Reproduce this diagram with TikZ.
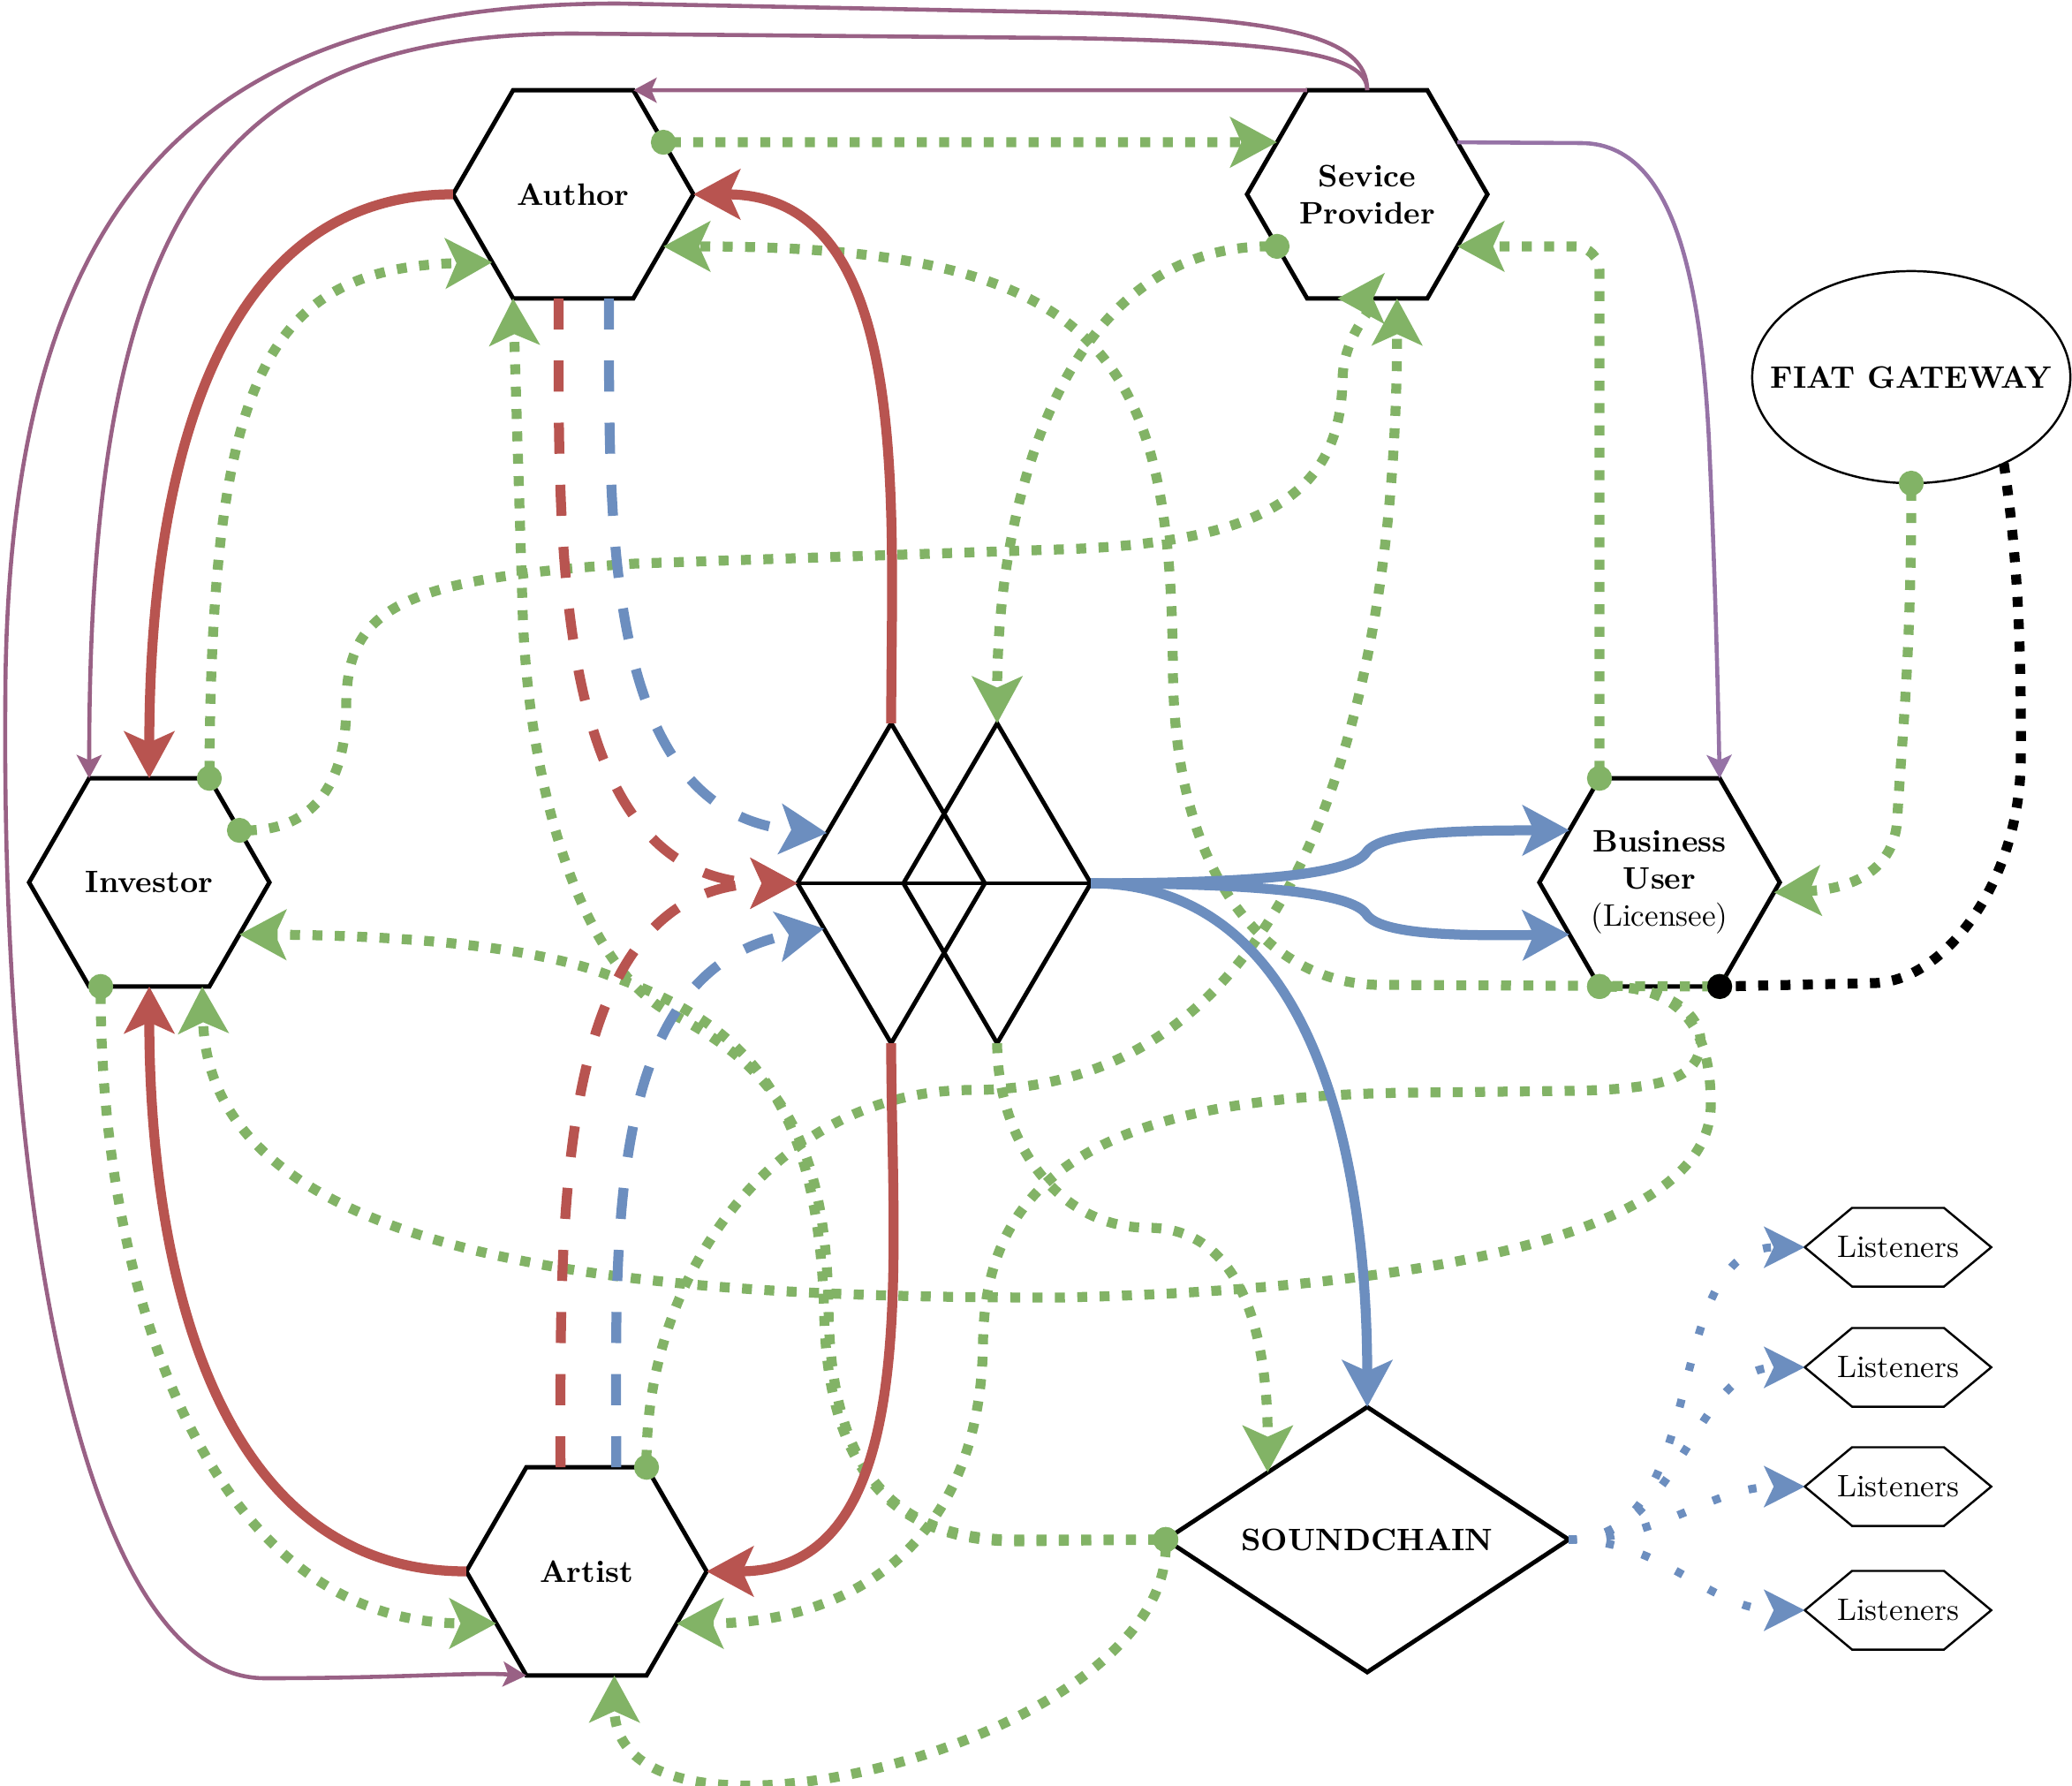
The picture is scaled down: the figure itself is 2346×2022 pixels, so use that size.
\documentclass[tikz,border=0pt]{standalone}
\usetikzlibrary{shapes.geometric,arrows.meta,calc}
\definecolor{cgreen}{HTML}{82B366}
\definecolor{cred}{HTML}{B85450}
\definecolor{cblue}{HTML}{6C8EBF}
\definecolor{cmauve}{HTML}{996185}
\definecolor{cpurple}{HTML}{9673A6}
\tikzset{
  hexnode/.style={regular polygon, regular polygon sides=6, minimum size=2.72cm, draw, line width=1.4pt, inner sep=0pt, outer sep=0pt, font=\bfseries, align=center},
  dmnd/.style={diamond, draw, line width=1.4pt, inner sep=0pt, outer sep=0pt},
  lisnode/.style={minimum width=2.11cm, minimum height=0.89cm, inner sep=0pt, outer sep=0pt},
  lisline/.style={line width=0.7pt, line join=miter},
  gdot/.style={draw=cgreen, line width=3.2pt, dash pattern=on 3.2pt off 4pt},
  gflow/.style={gdot, arrows={Circle[length=8pt]-Stealth[length=15pt,width=16pt,inset=3.5pt]}, shorten <=-4pt},
  gnocirc/.style={gdot, arrows={-Stealth[length=15pt,width=16pt,inset=3.5pt]}},
  kdot/.style={draw=black, line width=3.2pt, dash pattern=on 3.2pt off 4pt, arrows={-Circle[length=8pt]}, shorten >=-4pt},
  redsolid/.style={draw=cred, line width=3.2pt, arrows={-Stealth[length=15pt,width=16pt,inset=3.5pt]}},
  reddash/.style={redsolid, dash pattern=on 10pt off 10pt},
  bluesolid/.style={draw=cblue, line width=3.2pt, arrows={-Stealth[length=15pt,width=16pt,inset=3.5pt]}},
  bluedash/.style={bluesolid, dash pattern=on 10pt off 10pt},
  bdot/.style={draw=cblue, line width=2.6pt, dash pattern=on 2.6pt off 9.5pt, arrows={-Stealth[length=13pt,width=13pt,inset=3pt]}},
  mauveline/.style={draw=cmauve, line width=1.3pt, arrows={-Stealth[length=7.5pt,width=8pt,inset=1.7pt]}},
  purpline/.style={draw=cpurple, line width=1.3pt, arrows={-Stealth[length=7.5pt,width=8pt,inset=1.7pt]}}
}
\begin{document}
\begin{tikzpicture}[x=0.01cm,y=0.01cm]
\useasboundingbox (0,0) rectangle (2346,-2022);

% nodes
\node[hexnode] (Author) at (649,-220) {Author};
\node[hexnode] (SP) at (1548,-220) {Sevice\\Provider};
\node[hexnode] (Investor) at (169,-999) {Investor};
\node[hexnode] (BU) at (1879,-999) {Business\\User\\\normalfont(Licensee)};
\node[hexnode] (Artist) at (664,-1779) {Artist};
\node[ellipse, draw, line width=0.7pt, minimum width=3.6cm, minimum height=2.4cm, inner sep=0pt, outer sep=0pt] (FIAT) at (2164,-427) {\makebox[0pt]{\bfseries FIAT GATEWAY}};
\node[dmnd, minimum width=4.56cm, minimum height=3cm, aspect=1.52, font=\bfseries] (SC) at (1548,-1743) {SOUNDCHAIN};
\node[dmnd, minimum width=2.12cm, minimum height=3.62cm] (d1) at (1009,-1000) {};
\node[dmnd, minimum width=2.12cm, minimum height=3.62cm] (d2) at (1129,-1000) {};
\draw[line width=1.4pt] (d1.west) -- (d2.east);
\node[lisnode] (L1) at (2149,-1412) {Listeners};
\node[lisnode] (L2) at (2149,-1548) {Listeners};
\node[lisnode] (L3) at (2149,-1683) {Listeners};
\node[lisnode] (L4) at (2149,-1823) {Listeners};
\foreach \n in {L1,L2,L3,L4}{
  \draw[lisline] (\n.west) -- ($(\n.north west)+(53.5,0)$) -- ($(\n.north east)+(-53.5,0)$) -- (\n.east) -- ($(\n.south east)+(-53.5,0)$) -- ($(\n.south west)+(53.5,0)$) -- cycle;
}

% purple connectors
\draw[mauveline] (SP.90) .. controls (1548,-60) and (1450,-47) .. (1200,-43) -- (650,-38) .. controls (238,-38) and (101,-249) .. (Investor.120);
\draw[mauveline] (SP.90) .. controls (1548,-40) and (1450,-20) .. (1200,-14) -- (700,-4) .. controls (200,-4) and (6,-250) .. (6,-800) .. controls (2,-1400) and (100,-1900) .. (300,-1900) .. controls (450,-1900) and (530,-1893) .. (Artist.240);
\draw[mauveline] (SP.120) -- (Author.60);
\draw[purpline] (SP.30) -- (1790,-162) .. controls (1890,-162) and (1925,-300) .. (1935,-500) .. controls (1942,-650) and (1945,-780) .. (BU.60);

% green connectors
\draw[gflow] (Author.30) -- (SP.150);
\draw[gflow] (Investor.60) .. controls (240,-430) and (300,-303) .. (Author.220);
\draw[gflow] (Investor.30) .. controls (360,-940) and (392,-880) .. (392,-800) .. controls (392,-690) and (450,-655) .. (720,-638) -- (1200,-622) .. controls (1430,-615) and (1518,-560) .. (1520,-430) .. controls (1521,-370) and (1570,-338) .. (SP.254);
\draw[gflow] (Artist.60) to[out=90,in=180] (1100,-1234) to[out=0,in=270] (SP.286);
\draw[gflow] (BU.240) .. controls (1900,-1117) and (1937,-1160) .. (1937,-1250) .. controls (1938,-1400) and (1600,-1460) .. (1200,-1469) .. controls (800,-1469) and (237,-1450) .. (Investor.297);
\draw[gflow] (BU.240) .. controls (1890,-1117) and (1930,-1150) .. (1925,-1185) .. controls (1920,-1222) and (1880,-1233) .. (1780,-1235) -- (1600,-1237) .. controls (1250,-1240) and (1115,-1330) .. (1113,-1520) .. controls (1110,-1760) and (950,-1838) .. (Artist.330);
\draw[gflow] (FIAT.270) .. controls (2164,-750) and (2152,-850) .. (2148,-930) .. controls (2143,-990) and (2090,-1007) .. (BU.355);
\draw[gflow, rounded corners=8pt] (BU.120) |- (SP.330);
\draw[gflow] (SP.210) to[out=180,in=90] (d2.north);
\draw[gnocirc] (d2.south) to[out=270,in=180] (1300,-1390) to[out=0,in=90] (SC.146);
\draw[gflow] (SC.west) -- (1150,-1745) .. controls (1000,-1745) and (935,-1650) .. (933,-1480) .. controls (925,-1250) and (850,-1160) .. (689,-1104) .. controls (600,-1070) and (450,-1059) .. (Investor.330);
\draw[gflow] (SC.west) -- (1150,-1743) .. controls (1000,-1743) and (940,-1650) .. (938,-1480) .. controls (935,-1290) and (880,-1210) .. (765,-1150) .. controls (660,-1100) and (600,-900) .. (592,-700) -- (Author.240);
\draw[gflow] (SC.west) .. controls (1319,-1975) and (696,-2125) .. (Artist.285);
\draw[gflow] (Investor.245) to[out=270,in=180] (Artist.210);
\draw[gflow] (BU.300) -- (1560,-1115) .. controls (1440,-1113) and (1330,-1000) .. (1328,-760) .. controls (1326,-400) and (1250,-279) .. (Author.330);

% red connectors
\draw[redsolid] (Author.180) to[out=180,in=90] (Investor.90);
\draw[redsolid] (Artist.180) to[out=180,in=270] (Investor.270);
\draw[redsolid] (d1.north) to[out=90,in=0] (Author.0);
\draw[redsolid] (d1.south) to[out=270,in=0] (Artist.0);
\draw[reddash] (Author.262) to[out=270,in=180] (d1.west);
\draw[reddash] (Artist.104) to[out=90,in=180] (d1.west);

% blue connectors
\draw[bluedash] (Author.289) to[out=270,in=175] (d1.142);
\draw[bluedash] (Artist.74) to[out=90,in=190] (d1.214);
\draw[bluesolid] (d2.east) .. controls (1420,-1000) and (1530,-990) .. (1547,-965) .. controls (1562,-943) and (1640,-940) .. (BU.150);
\draw[bluesolid] (d2.east) .. controls (1420,-1000) and (1530,-1010) .. (1547,-1035) .. controls (1562,-1057) and (1640,-1060) .. (BU.210);
\draw[bluesolid] (d2.east) to[out=0,in=90] (SC.north);
\foreach \n in {L1,L2,L3,L4}{
  \draw[bdot] (SC.east) to[out=0,in=180] (\n.west);
}

% black connector
\draw[kdot] (FIAT.317) .. controls (2283,-620) and (2289,-720) .. (2288,-860) .. controls (2287,-1000) and (2200,-1113) .. (2120,-1113) -- (BU.300);
\end{tikzpicture}
\end{document}
